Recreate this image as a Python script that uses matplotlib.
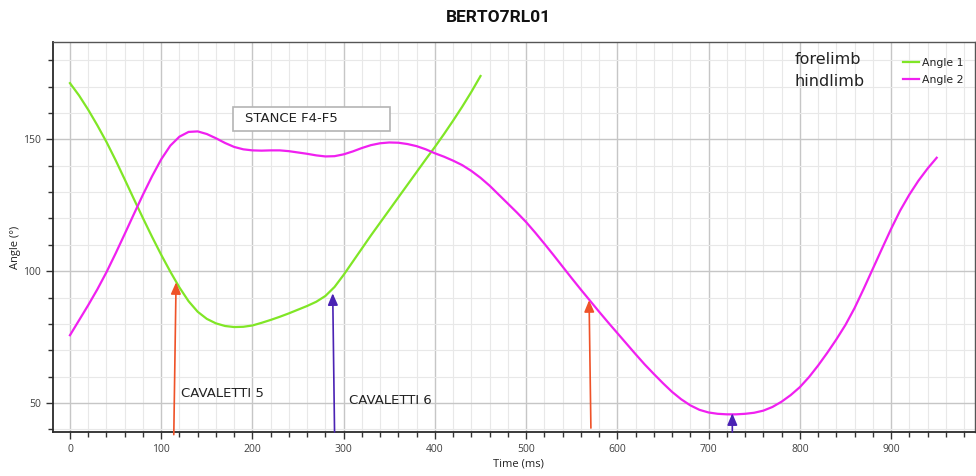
import matplotlib
matplotlib.use("Agg")
import matplotlib.pyplot as plt
from matplotlib.patches import Rectangle
from matplotlib.ticker import MultipleLocator

# --- data -------------------------------------------------------------
time_fore = [0, 10, 20, 30, 40, 50, 60, 70, 80, 90, 100, 110, 120, 130, 140,
             150, 160, 170, 180, 190, 200, 210, 220, 230, 240, 250, 260, 270,
             280, 290, 300, 310, 320, 330, 340, 350, 360, 370, 380, 390, 400,
             410, 420, 430, 440, 450]
angle_1 = [171.3, 166.6, 161.2, 155.3, 149.0, 142.1, 134.8, 127.4, 120.1, 113.0,
           106.2, 99.8, 93.8, 88.6, 84.6, 81.9, 80.2, 79.2, 78.8, 78.9, 79.4,
           80.4, 81.5, 82.7, 84.0, 85.4, 86.8, 88.4, 90.6, 94.0, 98.6, 103.6,
           108.6, 113.6, 118.4, 123.2, 128.0, 132.8, 137.6, 142.4, 147.1, 152.0,
           157.1, 162.4, 168.0, 174.0]

time_hind = [0, 10, 20, 30, 40, 50, 60, 70, 80, 90, 100, 110, 120, 130, 140,
             150, 160, 170, 180, 190, 200, 210, 220, 230, 240, 250, 260, 270,
             280, 290, 300, 310, 320, 330, 340, 350, 360, 370, 380, 390, 400,
             410, 420, 430, 440, 450, 460, 470, 480, 490, 500, 510, 520, 530,
             540, 550, 560, 570, 580, 590, 600, 610, 620, 630, 640, 650, 660,
             670, 680, 690, 700, 710, 720, 730, 740, 750, 760, 770, 780, 790,
             800, 810, 820, 830, 840, 850, 860, 870, 880, 890, 900, 910, 920,
             930, 940, 950]
angle_2 = [75.7, 81.4, 87.1, 93.1, 99.6, 106.7, 114.1, 121.6, 129.0, 136.0,
           142.4, 147.6, 151.0, 152.8, 153.0, 152.0, 150.4, 148.6, 147.1, 146.2,
           145.8, 145.7, 145.8, 145.8, 145.5, 145.0, 144.5, 143.9, 143.5, 143.6,
           144.3, 145.4, 146.7, 147.8, 148.5, 148.8, 148.7, 148.2, 147.4, 146.2,
           144.7, 143.4, 141.9, 140.2, 138.0, 135.4, 132.4, 129.0, 125.6, 122.2,
           118.6, 114.6, 110.4, 106.1, 101.7, 97.3, 93.0, 88.8, 84.6, 80.5,
           76.5, 72.5, 68.5, 64.6, 61.0, 57.5, 54.2, 51.4, 49.1, 47.4,
           46.4, 45.9, 45.7, 45.7, 45.9, 46.3, 47.1, 48.5, 50.5, 53.0,
           56.0, 59.8, 64.2, 69.0, 74.1, 79.6, 86.0, 93.3, 100.9, 108.5,
           116.0, 123.0, 129.0, 134.3, 138.9, 143.0]

# event markers: (base time, base angle, tip time, tip angle)
event_base_x = [113.8, 290.0, 571.0, 726.0]
event_base_y = [38.0, 39.0, 40.5, 39.0]
event_tip_x = [116.3, 288.0, 569.0, 726.0]
event_tip_y = [95.8, 91.6, 89.0, 46.1]
event_colors = ["#ef5228", "#4a22b4", "#ef5228", "#4a22b4"]

labels_text = ["CAVALETTI 5", "CAVALETTI 6"]
labels_x = [122.0, 305.5]
labels_y = [53.7, 50.8]

x_ticks = [0, 100, 200, 300, 400, 500, 600, 700, 800, 900]
y_ticks = [50, 100, 150]

# --- figure -----------------------------------------------------------
W, H = 976, 476
fig = plt.figure(figsize=(W / 100, H / 100), dpi=100)
ax = fig.add_axes([53 / W, 1 - 432 / H, (975 - 53) / W, (432 - 42) / H])

ax.set_xlim(-18.6, 992)
ax.set_ylim(39, 186.9)

ax.xaxis.set_major_locator(MultipleLocator(100))
ax.xaxis.set_minor_locator(MultipleLocator(20))
ax.yaxis.set_major_locator(MultipleLocator(50))
ax.yaxis.set_minor_locator(MultipleLocator(10))
ax.set_xticks(x_ticks)
ax.set_yticks(y_ticks)

ax.grid(which="major", color="#c6c6c6", lw=1.0, zorder=0)
ax.grid(which="minor", color="#e8e8e8", lw=0.8, zorder=0)
ax.set_axisbelow(True)

tick_font = ["Open Sans", "DejaVu Sans"]
ax.tick_params(which="major", direction="out", length=5, width=1,
               color="#333333", labelsize=7.5, labelcolor="#404040")
ax.tick_params(which="minor", direction="out", length=3.5, width=1,
               color="#333333")
for lab in ax.get_xticklabels() + ax.get_yticklabels():
    lab.set_family(tick_font)

for side in ("left", "bottom"):
    ax.spines[side].set_color("#2a2a2a")
    ax.spines[side].set_linewidth(1.3)
for side in ("top", "right"):
    ax.spines[side].set_color("#555555")
    ax.spines[side].set_linewidth(1.0)

ax.set_xlabel("Time (ms)", fontsize=8, family=tick_font, color="#222222")
ax.xaxis.set_label_coords((518 - 53) / (975 - 53), -(459 - 432) / (432 - 42))
ax.set_ylabel("Angle (°)", fontsize=8, family=tick_font, color="#222222")
ax.yaxis.set_label_coords(-(53 - 21) / (975 - 53), (432 - 247) / (432 - 42))

# curves
ax.plot(time_fore, angle_1, color="#80e626", lw=1.6, label="Angle 1", zorder=3)
ax.plot(time_hind, angle_2, color="#f020f0", lw=1.6, label="Angle 2", zorder=3)

# event arrows
for bx, by, tx, ty, c in zip(event_base_x, event_base_y, event_tip_x,
                             event_tip_y, event_colors):
    ax.annotate("", xy=(tx, ty), xytext=(bx, by),
                arrowprops=dict(arrowstyle="-|>,head_length=0.7,head_width=0.3",
                                color=c, lw=1.2, mutation_scale=10,
                                shrinkA=0, shrinkB=0),
                annotation_clip=False, zorder=4)

text_font = ["DejaVu Sans"]
for t, x, y in zip(labels_text, labels_x, labels_y):
    ax.text(x, y, t, fontsize=9.5, family=text_font, color="#222222",
            ha="left", va="center", zorder=5)

# stance box
ax.add_patch(Rectangle((178.7, 153.3), 351.3 - 178.7, 162.4 - 153.3,
                       facecolor="white", edgecolor="#b4b4b4", lw=1.2,
                       zorder=4))
ax.text(191.6, 157.8, "STANCE F4-F5", fontsize=9.5, family=text_font,
        color="#222222", ha="left", va="center", zorder=5)

# limb captions
fig.text(795 / W, 1 - 60 / H, "forelimb", fontsize=11.5, family=text_font,
         color="#222222", ha="left", va="center")
fig.text(795 / W, 1 - 81 / H, "hindlimb", fontsize=11.5, family=text_font,
         color="#222222", ha="left", va="center")

leg = ax.legend(loc="upper left", bbox_to_anchor=(903 / W, 1 - 58 / H),
                bbox_transform=fig.transFigure, frameon=False,
                fontsize=7.8, handlelength=1.5, handletextpad=0.25,
                labelspacing=0.62, borderpad=0, borderaxespad=0)
for txt in leg.get_texts():
    txt.set_family(text_font)
    txt.set_color("#222222")

fig.text(498 / W, 1 - 18 / H, "BERTO7RL01", fontsize=12.5, weight="bold",
         family=["Roboto", "DejaVu Sans"], color="#111111",
         ha="center", va="center")

fig.savefig("out.png", dpi=100)
